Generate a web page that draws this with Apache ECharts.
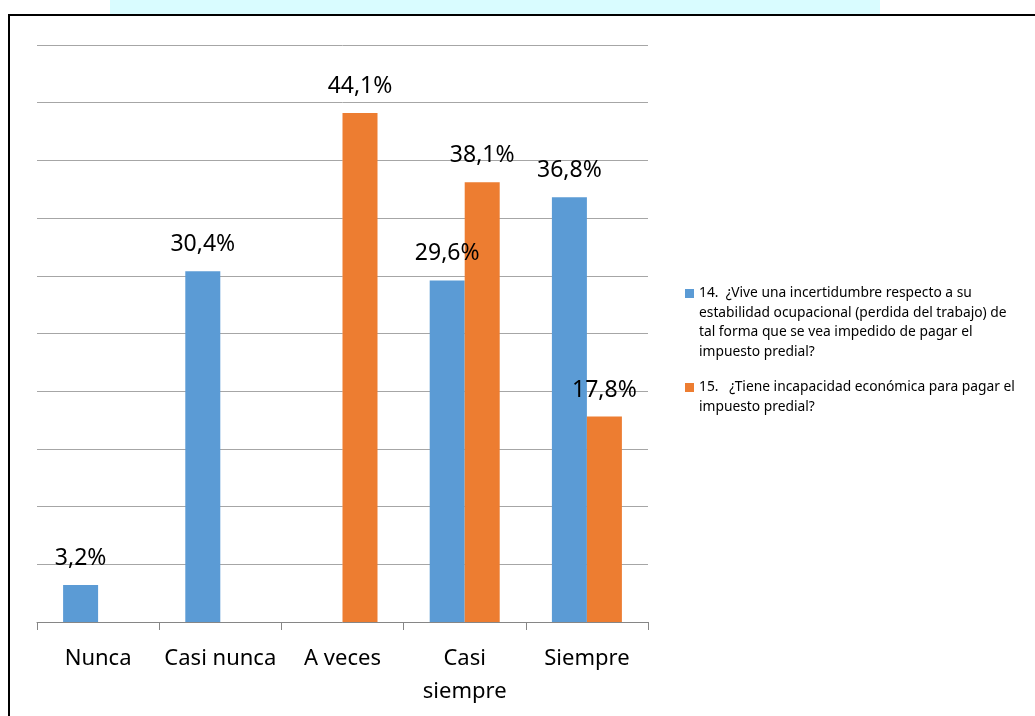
<!DOCTYPE html>
<html>
<head>
<meta charset="utf-8">
<script src="https://cdn.jsdelivr.net/npm/echarts@6/dist/echarts.min.js"></script>
<style>
  html, body { margin: 0; padding: 0; background: #ffffff; }
  #wrap { position: relative; width: 1035px; height: 716px; overflow: hidden; }
  #strip { position: absolute; left: 110px; top: 0; width: 770px; height: 16px; background: #d9fcff; }
  #frame { position: absolute; left: 8px; top: 14px; width: 1100px; height: 800px; border-left: 2px solid #000; border-top: 2px solid #000; background: #fff; }
  #chart { position: absolute; left: 0; top: 0; width: 1035px; height: 716px; }
</style>
</head>
<body>
<div id="wrap">
  <div id="strip"></div>
  <div id="frame"></div>
  <div id="chart"></div>
</div>
<script>
const categories = ['Nunca', 'Casi nunca', 'A veces', 'Casi\nsiempre', 'Siempre'];
const seriesNames = [
  '14.  ¿Vive una incertidumbre respecto a su estabilidad ocupacional (perdida del trabajo) de tal forma que se vea impedido de pagar el impuesto predial?',
  '15.   ¿Tiene incapacidad económica para pagar el impuesto predial?'
];
const legendLines = [
  ['14.  ¿Vive una incertidumbre respecto a su', 'estabilidad ocupacional (perdida del trabajo) de', 'tal forma que se vea impedido de pagar el', 'impuesto predial?'],
  ['15.   ¿Tiene incapacidad económica para pagar el', 'impuesto predial?']
];
const values14 = [3.2, 30.4, null, 29.6, 36.8];
const values15 = [null, null, 44.1, 38.1, 17.8];
const colors = ['#5B9BD5', '#ED7D31'];

const LH = 19.5;
function legendFor(i, iconCenterY) {
  const n = legendLines[i].length;
  const pad = [];
  for (let k = 0; k < n - 1; k++) pad.push(' ');
  const text = pad.concat(legendLines[i]).join('\n');
  return {
    orient: 'vertical',
    left: 685,
    top: iconCenterY - (n - 0.5) * LH,
    padding: 0,
    itemWidth: 9,
    itemHeight: 9,
    icon: 'rect',
    selectedMode: false,
    data: [seriesNames[i]],
    formatter: () => text,
    textStyle: {
      fontFamily: 'Noto Sans',
      fontSize: 13.8,
      color: '#000',
      lineHeight: LH
    }
  };
}

const chart = echarts.init(document.getElementById('chart'));
const labelStyle = {
  show: true,
  position: 'top',
  distance: 15,
  fontFamily: 'Noto Sans',
  fontSize: 23,
  color: '#000',
  formatter: p => String(p.value).replace('.', ',') + '%'
};
chart.setOption({
  animation: false,
  color: colors,
  grid: { left: 37, right: 387, top: 45, bottom: 94 },
  legend: [legendFor(0, 293.5), legendFor(1, 387.5)],
  xAxis: {
    type: 'category',
    data: categories,
    axisLine: { lineStyle: { color: '#868686', width: 1 } },
    axisTick: { show: true, alignWithLabel: false, length: 8, lineStyle: { color: '#868686' } },
    axisLabel: { fontFamily: 'Noto Sans', fontSize: 22, color: '#000', margin: 20, lineHeight: 33, interval: 0 }
  },
  yAxis: {
    type: 'value',
    min: 0,
    max: 50,
    interval: 5,
    axisLabel: { show: false },
    axisLine: { show: false },
    axisTick: { show: false },
    splitLine: { lineStyle: { color: '#a6a6a6', width: 1 } }
  },
  series: [
    { name: seriesNames[0], type: 'bar', data: values14, barWidth: 35, barGap: '0%', label: labelStyle, itemStyle: { color: colors[0] } },
    { name: seriesNames[1], type: 'bar', data: values15, barWidth: 35, barGap: '0%', label: labelStyle, itemStyle: { color: colors[1] } }
  ]
});
</script>
</body>
</html>
